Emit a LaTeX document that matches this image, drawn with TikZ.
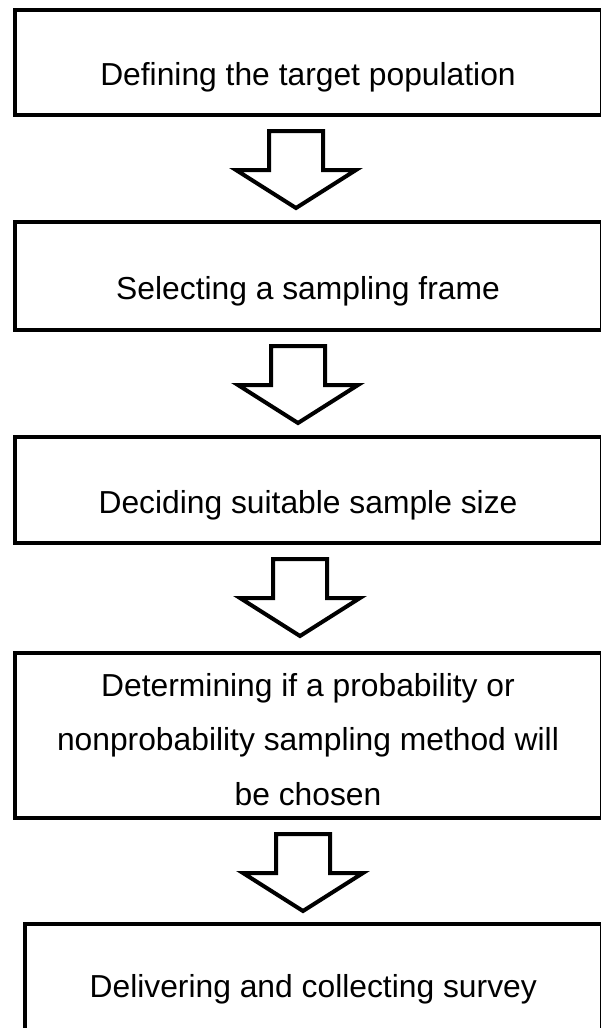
\documentclass[tikz,border=0pt]{standalone}
\usepackage{fontspec}
\setmainfont{Liberation Sans}

\tikzset{
    stepbox/.style={draw, line width=4pt, rectangle, inner sep=0pt, outer sep=0pt,
        minimum width=587pt, text height=51pt, text depth=5pt,
        font=\fontsize{31.8}{54.5}\selectfont},
    downarrow/.pic={
        \draw[line width=4pt, fill=white] (-27,0) -- (27,0) -- (27,39) -- (60,39)
            -- (0,77) -- (-60,39) -- (-27,39) -- cycle;
    }
}

\begin{document}
\begin{tikzpicture}[x=1pt,y=-1pt]

    \useasboundingbox (0,0) rectangle (600,1028);

    % 1st step
    \node[stepbox, minimum height=105.5pt] (s1) at (308,62.25) {Defining the target population};
    \pic (a1) at ([xshift=-12pt,yshift=-16pt]s1.south) {downarrow};

    % 2nd step
    \node[stepbox, minimum height=108pt] (s2) at (308,276) {Selecting a sampling frame};
    \pic (a2) at ([xshift=-10pt,yshift=-16pt]s2.south) {downarrow};

    % 3rd step
    \node[stepbox, minimum height=106pt] (s3) at (308,490) {Deciding suitable sample size};
    \pic (a3) at ([xshift=-8pt,yshift=-16pt]s3.south) {downarrow};

    % 4th step
    \node[stepbox, minimum height=165pt, align=center, text height=144pt, text depth=5pt]
        (s4) at (308,735.5) {Determining if a probability or\\nonprobability sampling method will\\be chosen};
    \pic (a4) at ([xshift=-5pt,yshift=-16pt]s4.south) {downarrow};

    % last step
    \node[stepbox, minimum width=576.5pt, minimum height=105.5pt, text height=47pt] (s5)
        at (313.25,976.75) {Delivering and collecting survey};

\end{tikzpicture}
\end{document}
